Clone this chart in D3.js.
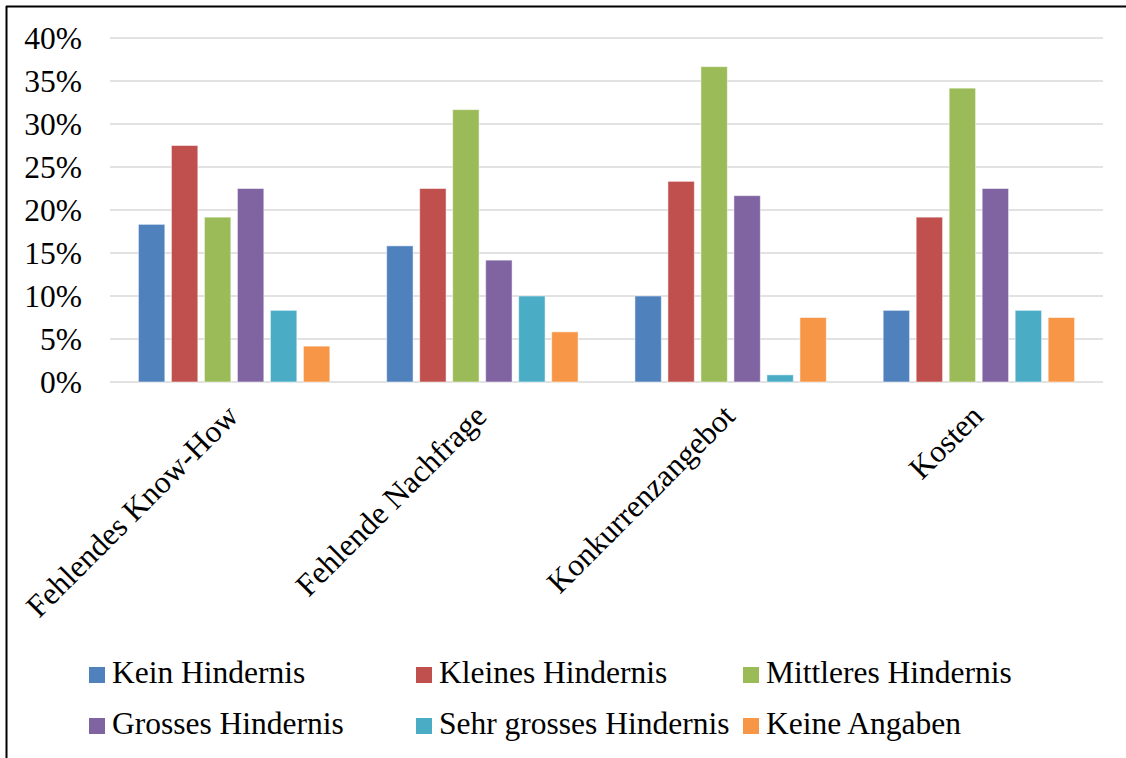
<!DOCTYPE html>
<html>
<head>
<meta charset="utf-8">
<script src="https://cdn.jsdelivr.net/npm/d3@7"></script>
<style>
  html, body { margin: 0; padding: 0; background: #fff; }
  svg { display: block; }
  svg text { font-family: "Liberation Serif", "Times New Roman", Times, serif; fill: #000; }
</style>
</head>
<body>
<svg id="chart" width="1126" height="758"></svg>
<script>
// Obstacle categories on the x axis
const categories = ["Fehlendes Know-How", "Fehlende Nachfrage", "Konkurrenzangebot", "Kosten"];

// Rating series (share of answers, %)
const seriesNames = ["Kein Hindernis", "Kleines Hindernis", "Mittleres Hindernis",
                     "Grosses Hindernis", "Sehr grosses Hindernis", "Keine Angaben"];
const keinHindernis        = [18.33, 15.83, 10.00, 8.33];
const kleinesHindernis     = [27.50, 22.50, 23.33, 19.17];
const mittleresHindernis   = [19.17, 31.67, 36.67, 34.17];
const grossesHindernis     = [22.50, 14.17, 21.67, 22.50];
const sehrGrossesHindernis = [8.33, 10.00, 0.83, 8.33];
const keineAngaben         = [4.17, 5.83, 7.50, 7.50];

const yTicks = [0, 5, 10, 15, 20, 25, 30, 35, 40];
const colors = ["#4F81BD", "#C0504D", "#9BBB59", "#8064A2", "#4BACC6", "#F79646"];

const seriesValues = [keinHindernis, kleinesHindernis, mittleresHindernis,
                      grossesHindernis, sehrGrossesHindernis, keineAngaben];

const FONT = "'Liberation Serif', 'Times New Roman', Times, serif";
const svg = d3.select("#chart");

// outer frame (left and top edges visible)
svg.append("line").attr("x1", 6.5).attr("y1", 6).attr("x2", 6.5).attr("y2", 758)
  .attr("stroke", "#000").attr("stroke-width", 2);
svg.append("line").attr("x1", 6).attr("y1", 6.5).attr("x2", 1126).attr("y2", 6.5)
  .attr("stroke", "#000").attr("stroke-width", 2);

const plot = { left: 110, right: 1103, top: 38, bottom: 382 };

const y = d3.scaleLinear().domain([0, 40]).range([plot.bottom, plot.top]);
const x0 = d3.scaleBand().domain(categories).range([plot.left, plot.right]).paddingInner(0).paddingOuter(0);
const groupWidth = 198;
const x1 = d3.scaleBand().domain(seriesNames)
  .range([0, groupWidth]).paddingInner(0.2).paddingOuter(0.1);

// gridlines
svg.append("g").selectAll("line").data(yTicks).join("line")
  .attr("x1", plot.left).attr("x2", plot.right)
  .attr("y1", d => y(d)).attr("y2", d => y(d))
  .attr("stroke", "#d9d9d9").attr("stroke-width", 1.5);

// y axis labels
const yAxis = d3.axisLeft(y).tickValues(yTicks).tickFormat(d => d + "%").tickSize(0).tickPadding(0);
const yg = svg.append("g").attr("transform", "translate(82,0)").call(yAxis)
  .attr("font-family", null).attr("font-size", null);
yg.select(".domain").remove();
yg.selectAll("text").style("font-size", "31.5px").style("font-family", FONT)
  .attr("fill", "#000").attr("dy", "0.32em");

// bars
const groups = svg.append("g").selectAll("g").data(categories).join("g")
  .attr("transform", c => `translate(${x0(c) + (x0.bandwidth() - groupWidth) / 2},0)`);

groups.selectAll("rect")
  .data((c, ci) => seriesNames.map((s, si) => ({ s, si, v: seriesValues[si][ci] })))
  .join("rect")
  .attr("x", d => x1(d.s))
  .attr("width", x1.bandwidth())
  .attr("y", d => y(d.v))
  .attr("height", d => y(0) - y(d.v))
  .attr("fill", d => colors[d.si])
  .attr("stroke", "#fff").attr("stroke-opacity", 0.5).attr("stroke-width", 1);

// category labels, rotated
const xg = svg.append("g");
xg.selectAll("text").data(categories).join("text")
  .attr("transform", c => `translate(${x0(c) + x0.bandwidth() / 2 + 6},${plot.bottom + 36}) rotate(-45)`)
  .attr("text-anchor", "end")
  .style("font-size", "31.5px").style("font-family", FONT)
  .text(c => c);

// legend in three columns, two rows
const legend = svg.append("g");
const colX = [89, 416, 743];
const rowY = [667, 718];
const items = legend.selectAll("g").data(seriesNames).join("g")
  .attr("transform", (s, i) => `translate(${colX[i % 3]},${rowY[Math.floor(i / 3)]})`);
items.append("rect").attr("width", 16).attr("height", 16).attr("fill", (s, i) => colors[i]);
items.append("text").attr("x", 23).attr("y", 16)
  .style("font-size", "31.5px").style("font-family", FONT).text(s => s);
</script>
</body>
</html>
